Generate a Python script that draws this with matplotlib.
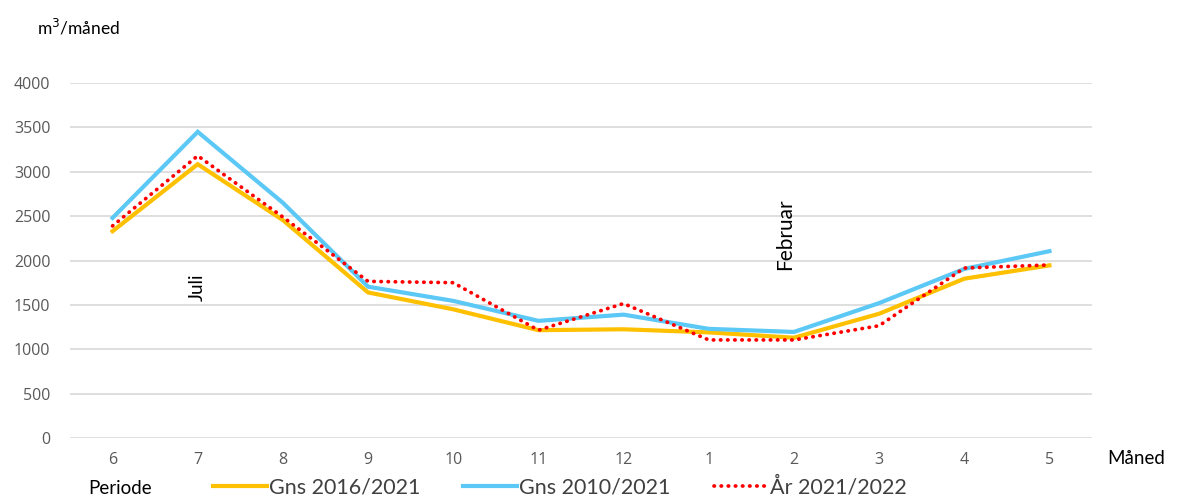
import matplotlib
matplotlib.use("Agg")
import matplotlib.pyplot as plt
import numpy as np

# months from June to May
months = ["6", "7", "8", "9", "10", "11", "12", "1", "2", "3", "4", "5"]
gns_2016_2021 = [2330, 3085, 2455, 1640, 1450, 1215, 1225, 1190, 1130, 1400, 1795, 1945]
gns_2010_2021 = [2480, 3450, 2650, 1705, 1545, 1320, 1390, 1230, 1195, 1520, 1905, 2105]
aar_2021_2022 = [2390, 3180, 2490, 1765, 1750, 1215, 1515, 1105, 1105, 1265, 1915, 1950]
y_ticks = [0, 500, 1000, 1500, 2000, 2500, 3000, 3500, 4000]

label_font = "Lato"
tick_color = "#595959"

fig = plt.figure(figsize=(11.78, 4.97), dpi=100)
ax = fig.add_axes([0.0594, 0.1187, 0.8676, 0.7143])

x = np.arange(len(months))
l1, = ax.plot(x, gns_2016_2021, color="#FFC000", lw=3, solid_joinstyle="miter")
l2, = ax.plot(x, gns_2010_2021, color="#5BC8F5", lw=3, solid_joinstyle="miter")
l3, = ax.plot(x, aar_2021_2022, color="#FF0000", lw=2.7, linestyle=(0, (0.1, 1.8)),
              dash_capstyle="round")

ax.set_xlim(-0.5, len(months) - 0.5)
ax.set_ylim(0, 4000)
ax.set_xticks(x)
ax.set_xticklabels(months)
ax.set_yticks(y_ticks)
ax.tick_params(length=0, colors=tick_color, labelsize=11.5, pad=10)
ax.tick_params(axis="y", pad=14)
for lab in ax.get_xticklabels() + ax.get_yticklabels():
    lab.set_family("Open Sans")
ax.grid(axis="y", color="#D9D9D9", lw=1.2)
ax.set_axisbelow(True)
for s in ax.spines.values():
    s.set_visible(False)

# month annotations
ax.text(1, 1700, "Juli", rotation=90, ha="center", va="center", fontsize=13.5,
        family=label_font)
ax.text(7.9, 2300, "Februar", rotation=90, ha="center", va="center", fontsize=15,
        family=label_font)

fig.text(0.031, 0.945, "m$^3$/måned", fontsize=12.5, family=label_font, va="center")
fig.text(0.940, 0.078, "Måned", fontsize=13.5, family=label_font, va="center")
fig.text(0.075, 0.018, "Periode", fontsize=13.5, family=label_font, va="center")

leg = fig.legend([l1, l2, l3], ["Gns 2016/2021", "Gns 2010/2021", "År 2021/2022"],
                 loc="center left", bbox_to_anchor=(0.1715, 0.02), ncol=3,
                 frameon=False, borderpad=0, handlelength=2.5, handletextpad=0.1,
                 columnspacing=2.0, prop={"family": label_font, "size": 15.5})
for t in leg.get_texts():
    t.set_color("#404040")

fig.savefig("out.png", dpi=100)
